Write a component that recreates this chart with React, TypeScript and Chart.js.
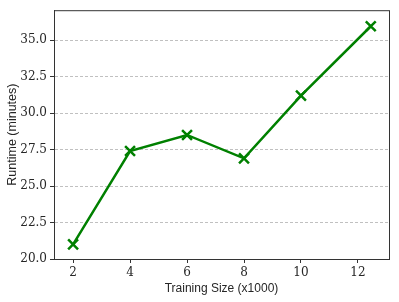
import React, { useEffect, useRef } from "react";
import { Chart, registerables } from "chart.js";

Chart.register(...registerables);

const trainingSize = [2, 4, 6, 8, 10, 12.45];
const runtime = [21.0, 27.4, 28.5, 26.9, 31.2, 35.95];
const xTicks = [2, 4, 6, 8, 10, 12];
const yTicks = [20.0, 22.5, 25.0, 27.5, 30.0, 32.5, 35.0];

const framePlugin = {
  id: "frame",
  afterDraw(chart: any) {
    const { ctx, chartArea } = chart;
    ctx.save();
    ctx.strokeStyle = "#333333";
    ctx.lineWidth = 1;
    ctx.strokeRect(chartArea.left + 0.5, chartArea.top + 0.5, chartArea.right - chartArea.left, chartArea.bottom - chartArea.top);
    ctx.restore();
  },
};

export default function App() {
  const ref = useRef<HTMLCanvasElement>(null);
  useEffect(() => {
    const chart = new Chart(ref.current!, {
      type: "line",
      data: {
        datasets: [
          {
            data: trainingSize.map((x, i) => ({ x, y: runtime[i] })),
            borderColor: "#008000",
            backgroundColor: "#008000",
            borderWidth: 2.5,
            pointStyle: "crossRot",
            pointRadius: 7,
            pointBorderWidth: 2.5,
            pointBorderColor: "#008000",
            tension: 0,
          },
        ],
      },
      options: {
        animation: false,
        responsive: false,
        maintainAspectRatio: false,
        layout: { padding: { top: 9, right: 10, left: 0, bottom: 6 } },
        plugins: { legend: { display: false }, tooltip: { enabled: false } },
        scales: {
          x: {
            type: "linear",
            min: 1.33,
            max: 13.09,
            afterBuildTicks: (s: any) => {
              s.ticks = xTicks.map((v) => ({ value: v }));
            },
            afterFit: (s: any) => {
              s.height = 37;
            },
            grid: {
              drawOnChartArea: false,
              drawTicks: true,
              tickLength: 4,
              tickColor: "#333333",
              tickWidth: 1,
            },
            border: { display: true, color: "#333333", width: 1 },
            ticks: {
              color: "#262626",
              font: { family: "'DejaVu Serif', serif", size: 12 },
              padding: 3,
              maxRotation: 0,
              callback: (v: any) => String(v),
            },
            title: {
              display: true,
              text: "Training Size (x1000)",
              color: "#262626",
              font: { family: "'Liberation Sans', sans-serif", size: 12 },
              padding: { top: 2, bottom: 0 },
            },
          },
          y: {
            type: "linear",
            min: 20,
            max: 37.05,
            afterBuildTicks: (s: any) => {
              s.ticks = yTicks.map((v) => ({ value: v }));
            },
            afterFit: (s: any) => {
              s.width = 54;
            },
            grid: {
              drawOnChartArea: true,
              drawTicks: true,
              tickLength: 4,
              color: "#b0b0b0",
              lineWidth: 0.8,
              tickColor: "#333333",
              tickWidth: 1,
            },
            border: { display: true, color: "#333333", width: 1, dash: [3, 2] },
            ticks: {
              color: "#262626",
              font: { family: "'DejaVu Serif', serif", size: 12 },
              padding: 3,
              callback: (v: any) => Number(v).toFixed(1),
            },
            title: {
              display: true,
              text: "Runtime (minutes)",
              color: "#262626",
              font: { family: "'Liberation Sans', sans-serif", size: 12.5 },
              padding: { top: 5, bottom: 0 },
            },
          },
        },
      },
      plugins: [framePlugin],
    });
    return () => chart.destroy();
  }, []);
  return (
    <div style={{ position: "absolute", left: 0, top: 0, width: 399, height: 302, background: "#fff" }}>
      <canvas ref={ref} width={399} height={302} style={{ width: 399, height: 302 }} />
    </div>
  );
}
